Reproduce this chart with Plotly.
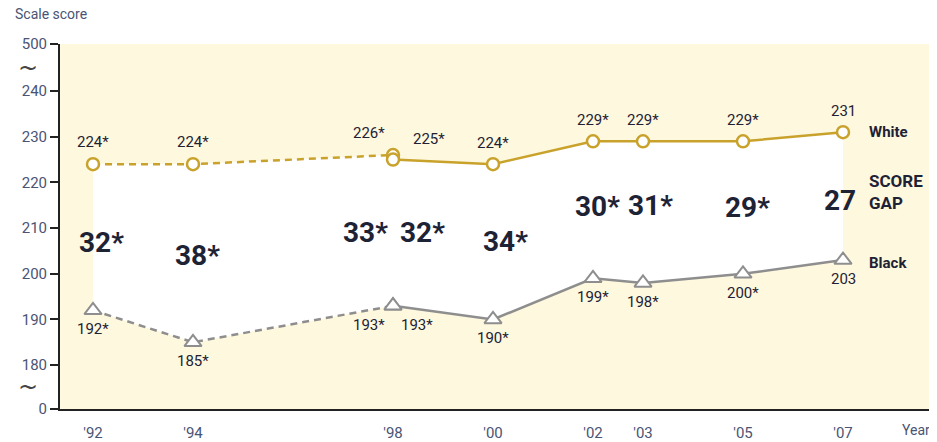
import plotly.graph_objects as go

# ---- data ----
years_dashed = [1992, 1994, 1998]
years_solid = [1998, 2000, 2002, 2003, 2005, 2007]
white_dashed = [224, 224, 226]
white_solid = [225, 224, 229, 229, 229, 231]
black_dashed = [192, 185, 193]
black_solid = [193, 190, 199, 198, 200, 203]
white_lbl_dashed = ["224*", "224*", "226*"]
white_lbl_solid = ["225*", "224*", "229*", "229*", "229*", "231"]
black_lbl_dashed = ["192*", "185*", "193*"]
black_lbl_solid = ["193*", "190*", "199*", "198*", "200*", "203"]
gap_years = [1992, 1994, 1998, 1998, 2000, 2002, 2003, 2005, 2007]
gap_labels = ["32*", "38*", "33*", "32*", "34*", "30*", "31*", "29*", "27"]
x_ticks = [1992, 1994, 1998, 2000, 2002, 2003, 2005, 2007]
x_ticktext = ["'92", "'94", "'98", "'00", "'02", "'03", "'05", "'07"]
y_ticks_real = [180, 190, 200, 210, 220, 230, 240]

# broken axis: 0 and 500 placed just outside the 180-240 band
Y_ZERO = 170.4
Y_TOP = 250.3

GOLD = "#C9A22C"
GRAY = "#8E8E8E"
YELLOW = "#FEF8DE"
TXT = "#1E2235"
TICK = "#4A5474"
FONT = "Roboto, Liberation Sans, sans-serif"

fig = go.Figure()

# white band between the two lines
up_x = years_dashed + years_solid
up_y = white_dashed + white_solid
lo_x = years_dashed + years_solid
lo_y = black_dashed + black_solid
fig.add_trace(go.Scatter(
    x=up_x + lo_x[::-1], y=up_y + lo_y[::-1], fill="toself",
    fillcolor="white", line=dict(width=0), mode="lines",
    hoverinfo="skip", showlegend=False))

dash = "7px,5px"
fig.add_trace(go.Scatter(x=years_dashed, y=white_dashed, mode="lines+markers",
    line=dict(color=GOLD, width=2.5, dash=dash),
    marker=dict(symbol="circle", size=12, color="white", line=dict(color=GOLD, width=2.5)),
    showlegend=False))
fig.add_trace(go.Scatter(x=years_solid, y=white_solid, mode="lines+markers",
    line=dict(color=GOLD, width=2.5),
    marker=dict(symbol="circle", size=12, color="white", line=dict(color=GOLD, width=2.5)),
    showlegend=False))
fig.add_trace(go.Scatter(x=years_dashed, y=black_dashed, mode="lines+markers",
    line=dict(color=GRAY, width=2.5, dash=dash),
    marker=dict(symbol="triangle-up", size=15, color="white", line=dict(color=GRAY, width=2)),
    showlegend=False))
fig.add_trace(go.Scatter(x=years_solid, y=black_solid, mode="lines+markers",
    line=dict(color=GRAY, width=2.5),
    marker=dict(symbol="triangle-up", size=15, color="white", line=dict(color=GRAY, width=2)),
    showlegend=False))

ann = []
lblfont = dict(family=FONT, size=15, color=TXT)
def add_lbls(xs, ys, texts, yshift, xshift_1998):
    for x, y, t in zip(xs, ys, texts):
        xs_ = xshift_1998 if x == 1998 else 0
        ann.append(dict(x=x, y=y, text=t, showarrow=False, font=lblfont,
                        xshift=xs_, yshift=yshift))

add_lbls(years_dashed, white_dashed, white_lbl_dashed, 22, -24)
add_lbls(years_solid, white_solid, white_lbl_solid, 21, 36)
add_lbls(years_dashed, black_dashed, black_lbl_dashed, -19, -24)
add_lbls(years_solid, black_solid, black_lbl_solid, -19, 24)

# gap labels placed midway between the two lines
white_all = dict(zip(years_dashed, white_dashed))
white_all.update({y: v for y, v in zip(years_solid, white_solid) if y != 1998})
black_all = dict(zip(years_dashed, black_dashed))
black_all.update({y: v for y, v in zip(years_solid, black_solid) if y != 1998})
gap_xshift = [8, 4, -28, 29, 12, 4, 7, 4, -3]
gap_yshift = [-5, -2, -2, -2, 0, 3, 7, 0, -4]
for i, (yr, t) in enumerate(zip(gap_years, gap_labels)):
    mid = (white_all[yr] + black_all[yr]) / 2
    ann.append(dict(x=yr, y=mid, text="<b>" + t + "</b>", showarrow=False,
                    font=dict(family=FONT, size=28, color=TXT),
                    xshift=gap_xshift[i], yshift=gap_yshift[i]))

# series / gap labels at the right
ann.append(dict(x=2007, y=white_solid[-1], text="<b>White</b>", showarrow=False,
                xanchor="left", xshift=24, font=dict(family=FONT, size=15, color=TXT)))
ann.append(dict(x=2007, y=black_solid[-1], text="<b>Black</b>", showarrow=False,
                xanchor="left", xshift=24, yshift=-3, font=dict(family=FONT, size=15, color=TXT)))
ann.append(dict(x=2007, y=(white_solid[-1] + black_solid[-1]) / 2, text="<b>SCORE<br>GAP</b>",
                showarrow=False, xanchor="left", xshift=24, yshift=4, align="left",
                font=dict(family=FONT, size=17, color=TXT)))

# titles and break symbols
ann.append(dict(xref="paper", yref="paper", x=-0.054, y=1.0, yshift=30, text="Scale score",
                showarrow=False, xanchor="left", yanchor="middle",
                font=dict(family=FONT, size=14, color=TICK)))
ann.append(dict(xref="paper", yref="paper", x=1.0, y=0, yshift=-21, text="Year",
                showarrow=False, xanchor="right", yanchor="middle",
                font=dict(family=FONT, size=14, color=TICK)))
for yv in [(240 + Y_TOP) / 2, (180 + Y_ZERO) / 2]:
    ann.append(dict(xref="paper", x=-0.05, y=yv, text="~", showarrow=False,
                    font=dict(family="DejaVu Sans", size=24, color="#444")))

# the page adds an 8px body margin, so margins are offset to compensate
fig.update_layout(
    width=937, height=442,
    margin=dict(l=52, r=13, t=36, b=41, autoexpand=False),
    paper_bgcolor="white", plot_bgcolor=YELLOW,
    annotations=ann,
    xaxis=dict(range=[1991.34, 2008.78], tickvals=x_ticks, ticktext=x_ticktext,
               automargin=False,
               showgrid=False, zeroline=False, showline=True, linecolor="#222",
               linewidth=2, ticks="outside", ticklen=9, tickcolor="rgba(0,0,0,0)",
               tickfont=dict(family=FONT, size=15, color=TICK)),
    yaxis=dict(range=[Y_ZERO, Y_TOP], automargin=False,
               tickvals=[Y_ZERO] + y_ticks_real + [Y_TOP],
               ticktext=["0"] + [str(v) for v in y_ticks_real] + ["500"],
               showgrid=False, zeroline=False, showline=True, linecolor="#222",
               linewidth=2, ticks="outside", ticklen=8, tickwidth=2, tickcolor="#222",
               tickfont=dict(family=FONT, size=15, color=TICK)),
)

fig.write_html("out.html")
